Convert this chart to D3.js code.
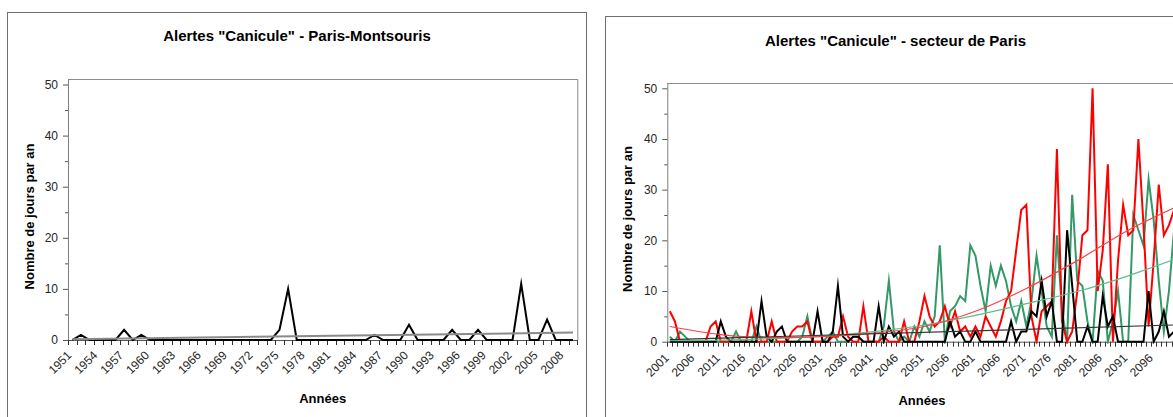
<!DOCTYPE html>
<html>
<head>
<meta charset="utf-8">
<script src="https://cdn.jsdelivr.net/npm/d3@7"></script>
<style>
  body { margin: 0; background: #fff; }
  svg { display: block; }
  text { font-family: "Liberation Sans", Arial, sans-serif; }
</style>
</head>
<body>
<svg id="chart" width="1173" height="417"></svg>
<script>
// ---------- Paris-Montsouris, observed heat-wave alert days ----------
const obsYears = [1951,1952,1953,1954,1955,1956,1957,1958,1959,1960,
  1961,1962,1963,1964,1965,1966,1967,1968,1969,1970,
  1971,1972,1973,1974,1975,1976,1977,1978,1979,1980,
  1981,1982,1983,1984,1985,1986,1987,1988,1989,1990,
  1991,1992,1993,1994,1995,1996,1997,1998,1999,2000,
  2001,2002,2003,2004,2005,2006,2007,2008,2009];
const obsDays = [0,1,0,0,0,0,2,0,1,0,
  0,0,0,0,0,0,0,0,0,0,
  0,0,0,0,2,10,0,0,0,0,
  0,0,0,0,0,1,0,0,0,3,
  0,0,0,0,2,0,0,2,0,0,
  0,0,11,0,0,4,0,0,0];
const obsTickLabels = ["1951","1954","1957","1960","1963","1966","1969","1972","1975","1978",
  "1981","1984","1987","1990","1993","1996","1999","2002","2005","2008"];
const obsTrendYears = [1951, 2009];
const obsTrendDays = [0.15, 1.45];

// ---------- Paris sector, projected alert days 2001-2100 ----------
const projYears = [2001,2002,2003,2004,2005,2006,2007,2008,2009,2010,
  2011,2012,2013,2014,2015,2016,2017,2018,2019,2020,
  2021,2022,2023,2024,2025,2026,2027,2028,2029,2030,
  2031,2032,2033,2034,2035,2036,2037,2038,2039,2040,
  2041,2042,2043,2044,2045,2046,2047,2048,2049,2050,
  2051,2052,2053,2054,2055,2056,2057,2058,2059,2060,
  2061,2062,2063,2064,2065,2066,2067,2068,2069,2070,
  2071,2072,2073,2074,2075,2076,2077,2078,2079,2080,
  2081,2082,2083,2084,2085,2086,2087,2088,2089,2090,
  2091,2092,2093,2094,2095,2096,2097,2098,2099,2100];
const redDays = [6,4,0,0,0,0,0,0,3,4,
  0,0,0,0,0,0,6,0,0,0,
  4,0,0,0,2,3,3,4,0,0,
  0,0,1,1,5,1,0,0,7,0,
  0,0,1,0,0,0,4,0,0,4,
  9,5,3,4,7,3,6,2,3,1,
  3,1,5,3,1,4,8,10,18,26,
  27,5,0,6,7,8,38,4,0,2,
  10,21,22,50,10,18,35,0,16,27,
  21,22,40,23,3,16,31,21,23,26];
const greenDays = [1,0,2,1,0,0,0,0,0,0,
  0,0,0,2,0,0,0,3,0,0,
  0,0,0,0,0,0,1,5,0,0,
  0,1,2,0,0,0,1,1,0,0,
  0,0,3,12,2,0,1,0,3,1,
  4,2,5,19,0,6,7,9,8,19,
  17,11,6,15,11,15,12,7,4,8,
  3,8,17,10,3,1,21,6,0,29,
  12,11,4,0,14,12,0,4,10,0,
  0,25,22,19,32,24,12,2,10,22];
const blackDays = [0,0,0,0,0,0,0,0,0,0,
  4,1,0,0,0,0,0,0,8,1,
  0,2,3,0,0,0,0,0,0,6,
  0,0,2,11,1,0,1,1,0,0,
  0,7,0,3,1,2,0,0,0,0,
  0,0,0,0,0,4,1,2,0,0,
  2,0,0,0,0,0,0,4,0,2,
  2,6,5,12,5,8,0,0,22,11,
  0,0,3,0,0,9,3,5,0,0,
  0,0,0,0,10,0,2,6,1,2];
const projTickLabels = ["2001","2006","2011","2016","2021","2026","2031","2036","2041","2046",
  "2051","2056","2061","2066","2071","2076","2081","2086","2091","2096"];
// trend curves (polynomial fits for red and green, linear for black)
const trendYears = [2001,2011,2021,2031,2041,2051,2061,2071,2081,2091,2100];
const redTrend   = [3.0,1.4,0.8,1.0,1.7,3.0,6.0,10.5,16.0,22.0,26.4];
const greenTrend = [0.2,0.3,0.6,1.1,2.0,3.3,5.2,7.5,9.9,13.0,16.2];
const blackTrendYears = [2001, 2100];
const blackTrend = [0.4, 3.3];

const majorTicks = [0,10,20,30,40,50];
const minorTicks = [5,15,25,35,45];

const svg = d3.select("#chart");

function drawPanel(cfg) {
  const g = svg.append("g");

  // chart area border
  g.append("rect")
    .attr("x", cfg.box[0]).attr("y", cfg.box[1])
    .attr("width", cfg.box[2]).attr("height", cfg.box[3])
    .attr("fill", "#fff").attr("stroke", "#6e6e6e").attr("stroke-width", 1);

  g.append("text")
    .attr("x", cfg.titleX).attr("y", cfg.titleY)
    .attr("text-anchor", "middle")
    .attr("font-size", 15).attr("font-weight", "bold").attr("fill", "#000")
    .text(cfg.title);

  const x = d3.scaleBand().domain(cfg.years).range([cfg.left, cfg.right]).padding(0);
  const y = d3.scaleLinear().domain([0, 50]).range([cfg.y0, cfg.y50]);
  const cx = yr => x(yr) + x.bandwidth() / 2;

  const clipId = "clip" + cfg.id;
  g.append("clipPath").attr("id", clipId)
    .append("rect").attr("x", cfg.left).attr("y", cfg.frameTop - 2)
    .attr("width", cfg.right - cfg.left).attr("height", cfg.y0 - cfg.frameTop + 4);

  // plot area frame (top and right)
  g.append("path")
    .attr("d", `M${cfg.left},${cfg.frameTop + 0.5}H${cfg.right + 0.5}V${cfg.y0}`)
    .attr("fill", "none").attr("stroke", "#8c8c8c").attr("stroke-width", 1);

  // y axis, major and minor ticks
  const yAxis = g.append("g").attr("transform", `translate(${cfg.left},0)`)
    .call(d3.axisLeft(y).tickValues(majorTicks).tickSize(5).tickPadding(5).tickFormat(d3.format("d")));
  yAxis.select(".domain").attr("stroke", "#808080").attr("d", `M0.5,${cfg.frameTop}V${cfg.y0}`);
  yAxis.selectAll(".tick line").attr("stroke", "#555");
  yAxis.selectAll(".tick text").attr("font-size", 12).attr("fill", "#262626")
    .attr("font-family", "Liberation Sans, Arial, sans-serif");
  const yMinor = g.append("g").attr("transform", `translate(${cfg.left},0)`)
    .call(d3.axisLeft(y).tickValues(minorTicks).tickSize(3).tickFormat(""));
  yMinor.select(".domain").remove();
  yMinor.selectAll(".tick line").attr("stroke", "#555");

  // x axis line with a tick at every category boundary
  g.append("line")
    .attr("x1", cfg.left).attr("x2", cfg.right)
    .attr("y1", cfg.y0 + 0.5).attr("y2", cfg.y0 + 0.5)
    .attr("stroke", "#555");
  const bounds = cfg.years.map(yr => x(yr)).concat([cfg.right]);
  g.append("g").selectAll("line").data(bounds).join("line")
    .attr("x1", d => Math.round(d) + 0.5).attr("x2", d => Math.round(d) + 0.5)
    .attr("y1", cfg.y0).attr("y2", cfg.y0 + 5)
    .attr("stroke", "#333");

  // rotated category labels
  g.append("g").selectAll("text").data(cfg.labels).join("text")
    .attr("transform", d => `translate(${cx(+d) + cfg.labelDx},${cfg.y0 + cfg.labelDy}) rotate(-45)`)
    .attr("text-anchor", "end").attr("dy", "0.35em")
    .attr("font-size", 12).attr("fill", "#262626")
    .text(d => d);

  // axis titles
  g.append("text")
    .attr("transform", `translate(${cfg.yTitleX},${cfg.yTitleY}) rotate(-90)`)
    .attr("text-anchor", "middle").attr("dy", "0.35em")
    .attr("font-size", 13).attr("font-weight", "bold")
    .text("Nombre de jours par an");
  g.append("text")
    .attr("x", (cfg.left + cfg.right) / 2).attr("y", cfg.xTitleY)
    .attr("text-anchor", "middle")
    .attr("font-size", 13).attr("font-weight", "bold")
    .text("Années");

  const plot = g.append("g").attr("clip-path", `url(#${clipId})`);

  cfg.series.forEach(s => {
    const line = d3.line().x((d, i) => cx(cfg.years[i])).y(d => y(d));
    plot.append("path").datum(s.values)
      .attr("d", line)
      .attr("fill", "none").attr("stroke", s.color).attr("stroke-width", s.width)
      .attr("stroke-linejoin", "miter").attr("stroke-miterlimit", 10);
  });

  cfg.trends.forEach(t => {
    const line = d3.line().curve(d3.curveMonotoneX)
      .x((d, i) => cx(t.years[i])).y(d => y(d));
    plot.append("path").datum(t.values)
      .attr("d", line)
      .attr("fill", "none").attr("stroke", t.color).attr("stroke-width", t.width);
  });
}

drawPanel({
  id: "obs",
  box: [7.5, 12.5, 579, 420],
  title: 'Alertes "Canicule" - Paris-Montsouris',
  titleX: 297, titleY: 40.5,
  years: obsYears, labels: obsTickLabels,
  left: 68, right: 577.3, frameTop: 79, y0: 340, y50: 84.5,
  labelDx: -3, labelDy: 13,
  yTitleX: 29.5, yTitleY: 216.5, xTitleY: 402.5,
  series: [ { values: obsDays, color: "#000", width: 2 } ],
  trends: [ { years: obsTrendYears, values: obsTrendDays, color: "#8a8a8a", width: 2 } ]
});

drawPanel({
  id: "proj",
  box: [605.5, 16.5, 580, 420],
  title: 'Alertes "Canicule" - secteur de Paris',
  titleX: 895.5, titleY: 45.5,
  years: projYears, labels: projTickLabels,
  left: 667.3, right: 1176.6, frameTop: 83, y0: 341.7, y50: 88.3,
  labelDx: -3, labelDy: 14,
  yTitleX: 627.5, yTitleY: 219, xTitleY: 404.5,
  series: [
    { values: greenDays, color: "#339966", width: 2 },
    { values: redDays,   color: "#ff0000", width: 2 },
    { values: blackDays, color: "#000000", width: 2 }
  ],
  trends: [
    { years: trendYears, values: greenTrend, color: "#5cbf8c", width: 1.2 },
    { years: trendYears, values: redTrend,   color: "#ff4040", width: 1.2 },
    { years: blackTrendYears, values: blackTrend, color: "#333", width: 1.2 }
  ]
});
</script>
</body>
</html>
